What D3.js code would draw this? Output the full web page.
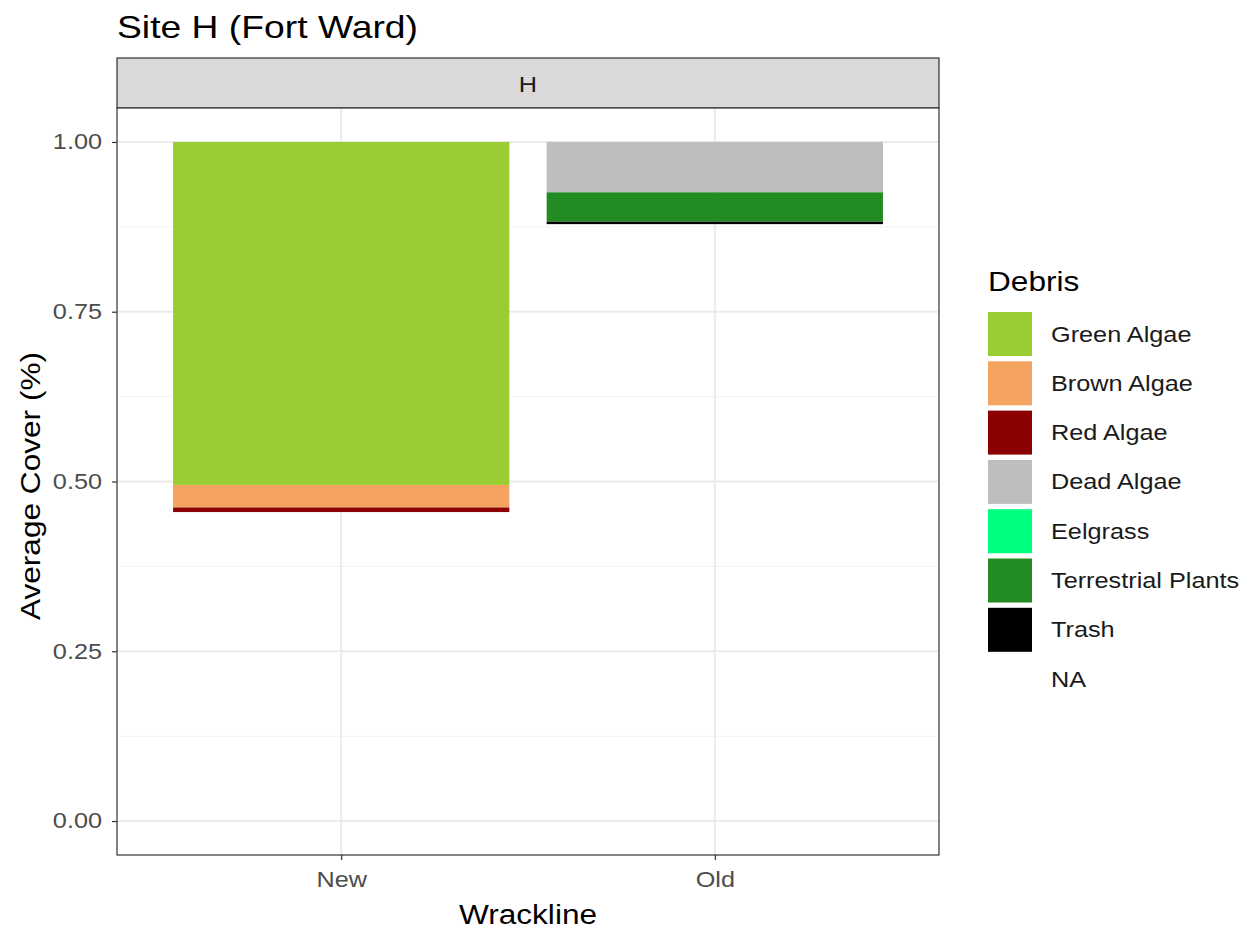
<!DOCTYPE html>
<html><head><meta charset="utf-8">
<script src="https://cdn.jsdelivr.net/npm/d3@7"></script>
<style>body{margin:0;background:#fff;} text{font-family:"Liberation Sans",Arial,sans-serif;}</style>
</head><body><svg id="c" width="1249" height="932"></svg>
<script>
const categories = ["New", "Old"];
const debrisTypes = ["Green Algae","Brown Algae","Red Algae","Dead Algae","Eelgrass","Terrestrial Plants","Trash","NA"];
const debrisColors = ["#9ACD32","#F4A460","#8B0000","#BEBEBE","#00FF7F","#228B22","#000000","none"];
// Average cover per debris type for each wrackline (same order as debrisTypes)
const newValues = [0.505, 0.033, 0.007, 0, 0, 0, 0, 0.455];
const oldValues = [0, 0, 0, 0.074, 0, 0.043, 0.004, 0.879];
const yTicks = [0, 0.25, 0.5, 0.75, 1.0];
const yMinor = [0.125, 0.375, 0.625, 0.875];

const BASE = 27, STRETCH = 1.17;
const svg = d3.select("#c");
const P = {l:117, r:939, t:108, b:855};
const x = d3.scaleLinear().domain([0.4, 2.6]).range([P.l, P.r]);
const y = d3.scaleLinear().domain([-0.05, 1.05]).range([P.b, P.t]);
const color = d3.scaleOrdinal().domain(debrisTypes).range(debrisColors);

// title
svg.append("text").attr("x", 117).attr("y", 38).attr("font-size", BASE*1.18).attr("fill","#000").text("Site H (Fort Ward)");

// strip
svg.append("rect").attr("x", P.l).attr("y", 58).attr("width", P.r-P.l).attr("height", 50)
  .attr("fill", "#D9D9D9").attr("stroke", "#333").attr("stroke-width", 1.2);
svg.append("text").attr("x", (P.l+P.r)/2).attr("y", 84).attr("dy","0.35em").attr("text-anchor","middle")
  .attr("font-size", BASE*0.8).attr("fill","#1A1A1A").text("H");

// panel bg
svg.append("rect").attr("x", P.l).attr("y", P.t).attr("width", P.r-P.l).attr("height", P.b-P.t).attr("fill","#fff");
// grid
const g = svg.append("g");
yMinor.forEach(v => g.append("line").attr("x1",P.l).attr("x2",P.r).attr("y1",y(v)).attr("y2",y(v)).attr("stroke","#F2F2F2").attr("stroke-width",1));
yTicks.forEach(v => g.append("line").attr("x1",P.l).attr("x2",P.r).attr("y1",y(v)).attr("y2",y(v)).attr("stroke","#EBEBEB").attr("stroke-width",2));
categories.forEach((c,i) => g.append("line").attr("x1",x(i+1)).attr("x2",x(i+1)).attr("y1",P.t).attr("y2",P.b).attr("stroke","#EBEBEB").attr("stroke-width",2));

// stacked bars (first level on top, ggplot style)
const series = [newValues, oldValues];
categories.forEach((c,i) => {
  const vals = series[i];
  let cum = 0;
  for (let k = debrisTypes.length-1; k >= 0; k--) {
    const v = vals[k];
    const y0 = cum, y1 = cum + v;
    cum = y1;
    if (v <= 0 || debrisColors[k] === "none") continue;
    svg.append("rect").attr("x", x(i+1-0.45)).attr("width", x(i+1+0.45)-x(i+1-0.45))
      .attr("y", y(y1)).attr("height", y(y0)-y(y1)).attr("fill", color(debrisTypes[k]));
  }
});

// panel border
svg.append("rect").attr("x", P.l).attr("y", P.t).attr("width", P.r-P.l).attr("height", P.b-P.t)
  .attr("fill","none").attr("stroke","#333").attr("stroke-width",1.2);

// y axis
const ya = svg.append("g").attr("transform",`translate(${P.l},0)`)
  .call(d3.axisLeft(y).tickValues(yTicks).tickFormat(d3.format(".2f")).tickSize(5).tickPadding(10));
ya.select(".domain").remove();
ya.selectAll("line").attr("stroke","#333").attr("stroke-width",1.2);
ya.selectAll("text").attr("font-size",BASE*0.8).attr("fill","#4D4D4D").attr("font-family","Liberation Sans, Arial, sans-serif");

// x axis
const xa = svg.append("g").attr("transform",`translate(0,${P.b})`)
  .call(d3.axisBottom(x).tickValues([1,2]).tickFormat((d)=>categories[d-1]).tickSize(5).tickPadding(12));
xa.select(".domain").remove();
xa.selectAll("line").attr("stroke","#333").attr("stroke-width",1.2);
xa.selectAll("text").attr("font-size",BASE*0.8).attr("fill","#4D4D4D").attr("font-family","Liberation Sans, Arial, sans-serif");

// axis titles
svg.append("text").attr("x",(P.l+P.r)/2).attr("y",924).attr("text-anchor","middle").attr("font-size",BASE).text("Wrackline");
svg.append("text").attr("transform",`translate(40,486) rotate(-90)`).attr("text-anchor","middle").attr("font-size",BASE).text("Average Cover (%)");

// legend
const L = svg.append("g");
L.append("text").attr("x",988).attr("y",291).attr("font-size",BASE).text("Debris");
debrisTypes.forEach((d,i) => {
  const ky = 312 + i*49.3;
  if (debrisColors[i] !== "none")
    L.append("rect").attr("x",988).attr("y",ky).attr("width",44).attr("height",44).attr("fill",color(d));
  L.append("text").attr("x",1051).attr("y",ky+22).attr("dy","0.35em").attr("font-size",BASE*0.8).attr("fill","#1A1A1A").text(d);
});

// widen glyphs horizontally to match the reference's wide text rendering
svg.selectAll("text").each(function(){
  const w = this.getComputedTextLength();
  d3.select(this).attr("textLength", w*STRETCH).attr("lengthAdjust","spacingAndGlyphs");
});
</script></body></html>
